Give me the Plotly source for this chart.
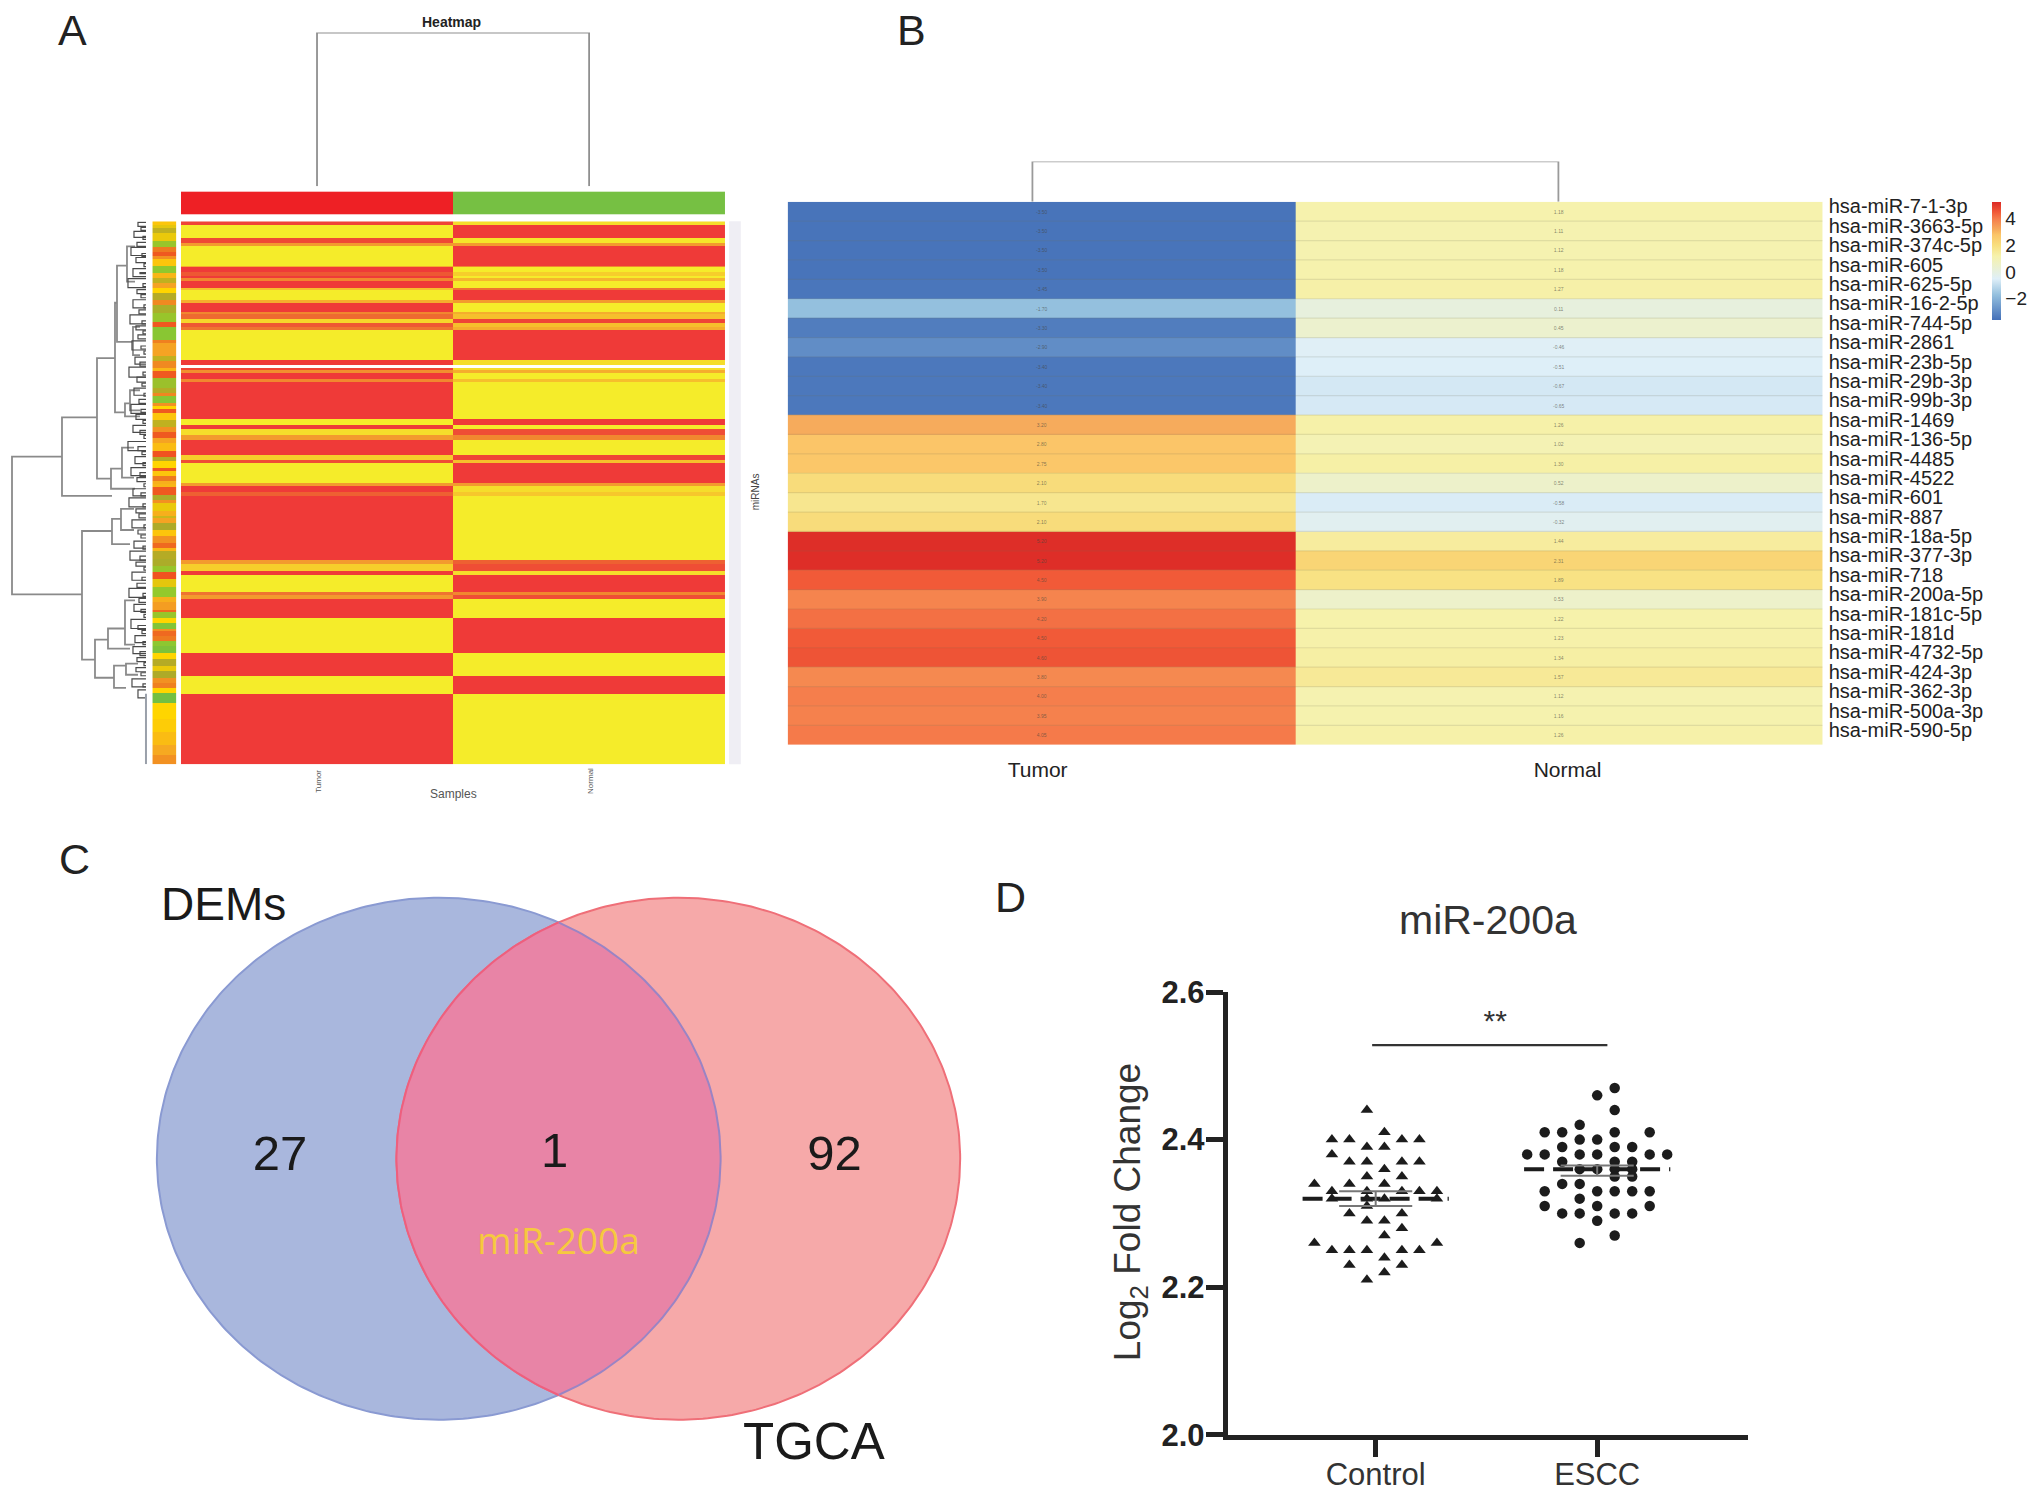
import numpy as np
import plotly.graph_objects as go

W, H = 2031, 1493
P = W / 1560.0  # working scale


def dx(a, b):
    return [a * P / W, b * P / W]


def dy(a, b):
    return [1 - b * P / H, 1 - a * P / H]


# ---------- Panel A data ----------
a_band_rows = [4, 13, 5, 3, 19, 1, 5, 4, 2, 3, 7, 2, 10, 3, 9, 2, 5, 4, 4, 3, 30, 5, 3, 2, 3, 6, 3, 37, 6, 4, 5, 5, 15, 5, 3, 20,
               3, 6, 4, 64, 4, 7, 4, 17, 3, 4, 18, 35, 23, 18, 70]
a_tumor_band = [.95, 0, .92, .5, 0, .4, 1, .85, 1, .6, 1, .3, 0, .4, 1, .6, .75, .15, .85, .7, 0, 1, None, .95, .55, 1, .6, 1, 0, 1, .1, .5, 1, .2, .9, 0,
                .5, 1, .8, 1, .5, .2, 1, 0, .7, .5, 1, 0, 1, 0, 1]
a_normal_band = [.1, 1, .05, .5, 1, .6, 0, .2, 0, .35, 0, .7, 1, .5, 0, .4, .3, .95, .3, .4, 1, .1, None, .1, .4, 0, .3, 0, 1, 0, .9, .6, 0, .95, .3, 1,
                 .5, .1, .25, 0, .8, .9, .1, 1, .6, .9, 0, 1, 0, 1, 0]
a_samples = ["Tumor", "Normal"]
a_strip_rows = [4, 3, 5, 8, 6, 5, 3, 3, 7, 7, 5, 5, 5, 5, 7, 5, 8, 9, 5, 13, 3, 13, 5, 7, 3, 7, 10, 5, 3, 7, 3, 3, 4, 7, 7, 5, 5, 5, 8, 6, 4, 7, 3, 5, 5, 3,
                3, 8, 5, 3, 8, 5, 2, 5, 7, 6, 7, 5, 3, 8, 7, 6, 7, 8, 10, 5, 8, 2, 5, 5, 6, 2, 5, 5, 5, 7, 6, 7, 5, 7, 5, 5, 5, 10, 16, 13, 13, 10, 10]
a_strip_vals = [.55, .45, .38, .46, .22, .8, .9, .72, .55, .18, .6, .38, .66, .5, .36, .75, .32, .22, .9, .14, .78, .66, .38, .75, .6, .9, .24, .36, .76, .14,
                .72, .5, .9, .55, .38, .72, .9, .66, .58, .92, .36, .5, .9, .55, .8, .62,
                .6, .9, .33, .72, .46, .62, .4, .66, .34, .55, .72, .85, .6, .36, .33, .22, .92, .45, .2, .62, .68, .85, .22, .5, .1, .72, .85, .8, .16, .08, .5, .36, .46, .34, .72, .78, .5, .02,
                .5, .53, .58, .64, .72]

dend_h = [12, 62, 97, 115, 117, 127, 133, 125, 130, 111, 122, 82, 112, 121, 95, 108, 125, 114, 126]
dend_top = [234, 195, 136, 81, 44, 25, 105, 181, 168, 246, 225, 308, 296, 286, 416, 405, 377, 442, 440]
dend_bot = [371, 273, 256, 190, 120, 60, 133, 194, 188, 266, 255, 436, 321, 307, 454, 425, 421, 464, 451]
dend_top_child = [62, 97, 115, 117, 127, 135, 140, 130, 140, 122, 134, 112, 121, 134, 108, 125, 135, 126, 138]
dend_bot_child = [82, 112, 111, 125, 133, 135, 140, 140, 140, 135, 134, 95, 130, 134, 114, 130, 135, 126, 138]
fine_h = [138, 141, 134, 143, 137, 131, 142, 136, 144, 133, 140, 128, 143, 137, 141, 133, 144, 139, 130, 142, 136, 143, 138, 132, 141, 144, 135, 140, 129, 143,
          137, 142, 134, 144, 139, 131, 141, 136, 143, 133, 140, 144, 128, 138, 142, 135, 143, 131, 140, 137, 144, 133, 141, 129, 143, 136, 139, 132, 144, 138,
          141, 134, 143, 130, 140, 136, 144, 132, 142, 137, 129, 143, 139, 134, 141, 144, 131, 138, 142, 135, 143, 133, 140, 137, 144, 136, 141, 132, 143, 138]
fine_top = [1, 6, 10, 15, 21, 26, 32, 36, 42, 47, 52, 57, 62, 68, 73, 78, 83, 88, 93, 99, 104, 109, 113, 119, 124, 129, 135, 140, 145, 150,
            155, 161, 166, 171, 177, 182, 187, 192, 198, 203, 208, 213, 219, 224, 229, 234, 240, 245, 250, 255, 261, 266, 270, 275, 281, 286, 291, 297, 302, 307,
            312, 318, 323, 328, 333, 339, 344, 349, 354, 360, 365, 370, 375, 381, 386, 391, 396, 402, 407, 412, 418, 423, 428, 434, 439, 444, 449, 455, 460, 466]
fine_bot = [5, 9, 16, 18, 25, 34, 35, 41, 45, 55, 51, 66, 65, 72, 76, 86, 86, 92, 102, 102, 108, 112, 117, 128, 127, 132, 142, 144, 155, 153,
            160, 164, 173, 174, 181, 191, 190, 197, 201, 210, 212, 216, 228, 228, 232, 241, 243, 253, 254, 259, 264, 273, 273, 284, 284, 290, 295, 305, 305, 311,
            315, 325, 326, 337, 337, 343, 347, 357, 357, 364, 374, 373, 379, 388, 389, 394, 405, 406, 410, 419, 421, 430, 432, 438, 442, 448, 452, 463, 463, 474]

# ---------- Panel B data ----------
b_mirnas = ["hsa-miR-7-1-3p", "hsa-miR-3663-5p", "hsa-miR-374c-5p", "hsa-miR-605", "hsa-miR-625-5p", "hsa-miR-16-2-5p", "hsa-miR-744-5p",
            "hsa-miR-2861", "hsa-miR-23b-5p", "hsa-miR-29b-3p", "hsa-miR-99b-3p", "hsa-miR-1469", "hsa-miR-136-5p", "hsa-miR-4485", "hsa-miR-4522",
            "hsa-miR-601", "hsa-miR-887", "hsa-miR-18a-5p", "hsa-miR-377-3p", "hsa-miR-718", "hsa-miR-200a-5p", "hsa-miR-181c-5p", "hsa-miR-181d",
            "hsa-miR-4732-5p", "hsa-miR-424-3p", "hsa-miR-362-3p", "hsa-miR-500a-3p", "hsa-miR-590-5p"]
b_tumor = [-3.5, -3.5, -3.5, -3.5, -3.45, -1.7, -3.3, -2.9, -3.4, -3.4, -3.4, 3.2, 2.8, 2.75, 2.1, 1.7, 2.1,
           5.2, 5.2, 4.5, 3.9, 4.2, 4.5, 4.6, 3.8, 4.0, 3.95, 4.05]
b_normal = [1.18, 1.11, 1.12, 1.18, 1.27, 0.11, 0.45, -0.46, -0.51, -0.67, -0.65, 1.26, 1.02, 1.3, 0.52, -0.58, -0.32,
            1.44, 2.31, 1.89, 0.53, 1.22, 1.23, 1.34, 1.57, 1.12, 1.16, 1.26]
b_samples = ["Tumor", "Normal"]
b_tick = [4, 2, 0, -2]
b_zmin, b_zmax = -3.6, 5.27
b_scale_vals = [-3.6, -1.7, -0.5, 1.2, 2.0, 2.8, 3.2, 4.0, 4.5, 5.27]
b_scale_cols = ["#4470b8", "#94c0de", "#dfeff8", "#f6f2ac", "#f8df7e", "#fbc568", "#f6ab5c", "#f57e4c", "#f15a38", "#dc2a26"]

# ---------- Panel C data ----------
venn_left_only = "27"
venn_overlap = "1"
venn_right_only = "92"
venn_left_name = "DEMs"
venn_right_name = "TGCA"
venn_gene = "miR-200a"
venn_cx = [337, 521]
venn_cy = 890
venn_rx = 216.5
venn_ry = 200.5

# ---------- Panel D data ----------
d_groups = ["Control", "ESCC"]
control_values = [2.44, 2.41, 2.40, 2.40, 2.40, 2.40, 2.39, 2.39, 2.38, 2.37, 2.37, 2.37, 2.37, 2.36, 2.35, 2.35, 2.34, 2.34, 2.34,
                  2.33, 2.33, 2.33, 2.33, 2.33, 2.32, 2.32, 2.32, 2.32, 2.31, 2.30, 2.30, 2.29, 2.29, 2.28, 2.27, 2.26, 2.26,
                  2.25, 2.25, 2.25, 2.25, 2.25, 2.24, 2.23, 2.23, 2.22, 2.21]
control_offsets = [-.5, .5, -2.5, -1.5, 1.5, 2.5, -.5, .5, -2.5, -1.5, -.5, 1.5, 2.5, .5, -.5, 1.5, -3.5, -1.5, .5,
                   -2.5, -.5, 1.5, 2.5, 3.5, -2.5, -.5, .5, 3.5, -.5, -1.5, 1.5, -.5, .5, 1.5, .5, -3.5, 3.5,
                   -2.5, -1.5, -.5, 1.5, 2.5, .5, -1.5, 1.5, .5, -.5]
escc_values = [2.47, 2.46, 2.44, 2.42, 2.41, 2.41, 2.41, 2.41, 2.40, 2.40, 2.39, 2.39, 2.39, 2.38, 2.38, 2.38, 2.38, 2.38, 2.38,
               2.37, 2.37, 2.37, 2.36, 2.36, 2.36, 2.36, 2.35, 2.35, 2.34, 2.34, 2.33, 2.33, 2.33, 2.33, 2.33, 2.32, 2.31, 2.31, 2.31,
               2.30, 2.30, 2.30, 2.30, 2.29, 2.27, 2.26]
escc_offsets = [1, 0, 1, -1, -3, -2, 1, 3, -1, 0, -2, 1, 2, -4, -3, -1, 0, 3, 4,
                -2, 1, 2, -1, 0, 1, 2, 1, 2, -2, -1, -3, 0, 1, 2, 3, -1, -3, 0, 3,
                -2, -1, 1, 2, 0, 1, -1]
swarm_step = 0.079
d_means = [2.32, 2.36]
d_err_low = [2.31, 2.351]
d_err_high = [2.33, 2.365]
d_yticks = [2.0, 2.2, 2.4, 2.6]

# ---------- expand panel A ----------
tumor_rows, normal_rows, strip_rows = [], [], []
for n, t, m in zip(a_band_rows, a_tumor_band, a_normal_band):
    tumor_rows += [t] * n
    normal_rows += [m] * n
for n, v in zip(a_strip_rows, a_strip_vals):
    strip_rows += [v] * n
n_rows = len(tumor_rows)
strip_rows = (strip_rows + [strip_rows[-1]] * n_rows)[:n_rows]
a_z = np.array([[np.nan if t is None else t, np.nan if m is None else m] for t, m in zip(tumor_rows, normal_rows)], dtype=float)

fig = go.Figure()


def hide(**kw):
    d = dict(visible=False, fixedrange=True)
    d.update(kw)
    return d


layout_axes = {}


def axes(i, xd, yd, xr, yr, **kw):
    s = "" if i == 1 else str(i)
    layout_axes[f"xaxis{s}"] = hide(domain=xd, range=xr, anchor=f"y{s}")
    layout_axes[f"yaxis{s}"] = hide(domain=yd, range=yr, anchor=f"x{s}")
    return (f"x{s}", f"y{s}")


# Panel A heatmap
ax = axes(1, dx(139, 557), dy(170, 587), [0, 2], [n_rows, 0])
heat_a_scale = [[0, "#f5ec2a"], [.3, "#f6bf2c"], [.5, "#f39a2e"], [.75, "#ee6a30"], [1, "#ef3a38"]]
fig.add_trace(go.Heatmap(z=a_z, x=[0, 1, 2], y=np.arange(n_rows + 1), zmin=0, zmax=1, colorscale=heat_a_scale,
                         showscale=False, hoverinfo="skip", xaxis=ax[0], yaxis=ax[1]))
# Panel A top colour bar
ax = axes(2, dx(139, 557), dy(147, 165), [0, 2], [0, 1])
fig.add_trace(go.Heatmap(z=[[0, 1]], x=[0, 1, 2], y=[0, 1], zmin=0, zmax=1, showscale=False,
                         colorscale=[[0, "#ee2025"], [.5, "#ee2025"], [.5, "#76c043"], [1, "#76c043"]],
                         hoverinfo="skip", xaxis=ax[0], yaxis=ax[1]))
# Panel A left strip
ax = axes(3, dx(117, 135.5), dy(170, 587), [0, 1], [n_rows, 0])
strip_scale = [[0, "#6fbe44"], [.2, "#94c92c"], [.35, "#b0a828"], [.5, "#ffd500"], [.65, "#f5a623"], [.8, "#ee7a20"], [.95, "#f04820"], [1, "#f04020"]]
fig.add_trace(go.Heatmap(z=[[v] for v in strip_rows], x=[0, 1], y=np.arange(n_rows + 1), zmin=0, zmax=1, colorscale=strip_scale,
                         showscale=False, hoverinfo="skip", xaxis=ax[0], yaxis=ax[1]))
# Panel A row dendrogram (height units = pixels from left of figure)
ax = axes(4, dx(0, 115.2), dy(170, 587), [0, 150], [n_rows, 0])
dx_line, dy_line = [], []
for h, t, b, ct, cb in zip(dend_h, dend_top, dend_bot, dend_top_child, dend_bot_child):
    dx_line += [ct, h, h, cb, None]
    dy_line += [t, t, b, b, None]
fig.add_trace(go.Scatter(x=dx_line, y=dy_line, mode="lines", line=dict(color="#8a8a8a", width=1.8), hoverinfo="skip", xaxis=ax[0], yaxis=ax[1]))
fx, fy = [], []
for h, t, b in zip(fine_h, fine_top, fine_bot):
    fx += [146, h, h, 146, None]
    fy += [t, t, b, b, None]
fig.add_trace(go.Scatter(x=fx, y=fy, mode="lines", line=dict(color="#4a4a4a", width=1.2), hoverinfo="skip", xaxis=ax[0], yaxis=ax[1]))
fig.add_trace(go.Scatter(x=[146, 146], y=[470, n_rows], mode="lines", line=dict(color="#9aa0aa", width=2), hoverinfo="skip", xaxis=ax[0], yaxis=ax[1]))
# Panel A column dendrogram
ax = axes(5, dx(139, 557), dy(25, 143), [0, 2], [0, 1])
fig.add_trace(go.Scatter(x=[.5, .5, 1.5, 1.5], y=[0, 1, 1, 0], mode="lines", line=dict(color="#8f8f8f", width=1.8), hoverinfo="skip", xaxis=ax[0], yaxis=ax[1]))

# Panel B heatmap
b_z = np.array([b_tumor, b_normal]).T
b_rows = np.arange(len(b_mirnas))
b_scale = [[(v - b_zmin) / (b_zmax - b_zmin), c] for v, c in zip(b_scale_vals, b_scale_cols)]
b_scale[0][0] = 0.0
b_scale[-1][0] = 1.0
ax = axes(6, dx(605, 1400), dy(155, 572), [0, 795], [len(b_mirnas) - .5, -.5])
fig.add_trace(go.Heatmap(z=b_z, x=[0, 390, 795], y=b_rows, zmin=b_zmin, zmax=b_zmax, colorscale=b_scale,
                         texttemplate="%{z:.2f}", textfont=dict(size=5, color="rgba(70,70,60,0.65)"),
                         hoverinfo="skip", xaxis=ax[0], yaxis=ax[1],
                         colorbar=dict(thickness=9, len=91 * P, lenmode="pixels", x=1530 * P / W, xanchor="left", xpad=0, ypad=0,
                                       y=1 - 155 * P / H, yanchor="top", outlinewidth=0, tickvals=b_tick, ticklen=0,
                                       ticktext=["4", "2", "0", "\u22122"], tickfont=dict(size=19, color="#222222", family="Liberation Sans"))))
hx, hy = [], []
for r in b_rows[:-1]:
    hx += [0, 795, None]
    hy += [r + .5, r + .5, None]
fig.add_trace(go.Scatter(x=hx, y=hy, mode="lines", line=dict(color="rgba(110,110,90,0.16)", width=1.2), hoverinfo="skip", xaxis=ax[0], yaxis=ax[1]))
layout_axes["yaxis6"] = dict(domain=dy(155, 572), range=[len(b_mirnas) - .5, -.5], anchor="x6", side="right", tickmode="array",
                             tickvals=list(b_rows), ticktext=b_mirnas, ticks="", showline=False, showgrid=False, zeroline=False,
                             tickfont=dict(size=20, family="Liberation Sans", color="#222222"), ticklabelshift=5, ticklabelstandoff=5, fixedrange=True)
layout_axes["xaxis6"] = dict(domain=dx(605, 1400), range=[0, 795], anchor="y6", tickmode="array", tickvals=[192, 599], ticktext=b_samples,
                             ticks="", showline=False, showgrid=False, zeroline=False, ticklabelstandoff=10,
                             tickfont=dict(size=21, family="Liberation Sans", color="#222222"), fixedrange=True)
# Panel B dendrogram
ax = axes(7, dx(605, 1400), dy(124, 155), [0, 795], [0, 1])
fig.add_trace(go.Scatter(x=[188, 188, 592, 592], y=[0, 1, 1, 0], mode="lines", line=dict(color="#9a9a9a", width=1.8), hoverinfo="skip", xaxis=ax[0], yaxis=ax[1]))

# Panel C Venn
ax = axes(8, dx(100, 760), dy(670, 1110), [100, 760], [1110, 670])
t = np.linspace(0, 2 * np.pi, 361)
ex = [c + venn_rx * np.cos(t) for c in venn_cx]
ey = venn_cy + venn_ry * np.sin(t)
fig.add_trace(go.Scatter(x=ex[0], y=ey, mode="lines", fill="toself", fillcolor="#a9b7dd", line=dict(color="#8a9ad2", width=2), hoverinfo="skip", xaxis=ax[0], yaxis=ax[1]))
fig.add_trace(go.Scatter(x=ex[1], y=ey, mode="lines", fill="toself", fillcolor="#f6a9a9", line=dict(color="#ef6f78", width=2), hoverinfo="skip", xaxis=ax[0], yaxis=ax[1]))
xm = (venn_cx[0] + venn_cx[1]) / 2
th0 = np.arccos((xm - venn_cx[0]) / venn_rx)
t1 = np.linspace(-th0, th0, 120)
lens_x = np.r_[venn_cx[0] + venn_rx * np.cos(t1), venn_cx[1] - venn_rx * np.cos(t1[::-1])]
lens_y = np.r_[venn_cy + venn_ry * np.sin(t1), venn_cy + venn_ry * np.sin(t1[::-1])]
fig.add_trace(go.Scatter(x=lens_x, y=lens_y, mode="none", fill="toself", fillcolor="#e884a6", hoverinfo="skip", xaxis=ax[0], yaxis=ax[1]))
fig.add_trace(go.Scatter(x=venn_cx[0] + venn_rx * np.cos(t1), y=venn_cy + venn_ry * np.sin(t1), mode="lines", line=dict(color="#9a84c4", width=2), hoverinfo="skip", xaxis=ax[0], yaxis=ax[1]))
fig.add_trace(go.Scatter(x=venn_cx[1] - venn_rx * np.cos(t1), y=venn_cy + venn_ry * np.sin(t1), mode="lines", line=dict(color="#ee5f7e", width=2), hoverinfo="skip", xaxis=ax[0], yaxis=ax[1]))
fig.add_trace(go.Scatter(x=[215, 426, 641], y=[889, 887, 889], mode="text", text=[venn_left_only, venn_overlap, venn_right_only],
                         textfont=dict(size=49, family="Liberation Sans", color="#1a1a1a"), hoverinfo="skip", xaxis=ax[0], yaxis=ax[1]))
fig.add_trace(go.Scatter(x=[429], y=[956], mode="text", text=[venn_gene], textfont=dict(size=37, family="Open Sans", color="#f6c93e"), hoverinfo="skip", xaxis=ax[0], yaxis=ax[1]))

# Panel D
layout_axes["xaxis9"] = dict(domain=dx(943, 1343), range=[0.332, 2.683], anchor="y9", tickmode="array", tickvals=[1, 2], ticktext=d_groups,
                             ticks="outside", ticklen=17, tickwidth=5, tickcolor="#222222", showline=True, linewidth=5, linecolor="#222222",
                             showgrid=False, zeroline=False, ticklabelstandoff=-9,
                             tickfont=dict(size=31, family="Liberation Sans", color="#333333"), fixedrange=True)
layout_axes["yaxis9"] = dict(domain=dy(762, 1102), range=[2.0, 2.6], anchor="x9", tickmode="array", tickvals=d_yticks,
                             ticktext=[f"{v:.1f}" for v in d_yticks], ticks="outside", ticklen=17, tickwidth=5, tickcolor="#222222",
                             showline=True, linewidth=5, linecolor="#222222", showgrid=False, zeroline=False, ticklabelstandoff=-5,
                             tickfont=dict(size=31, family="Liberation Sans", color="#222222", weight=700), fixedrange=True)
fig.add_trace(go.Scatter(x=[1 + o * swarm_step for o in control_offsets], y=control_values, mode="markers",
                         marker=dict(symbol="triangle-up", size=11, color="#1c1c1c"), hoverinfo="skip", xaxis="x9", yaxis="y9"))
fig.add_trace(go.Scatter(x=[2 + o * swarm_step for o in escc_offsets], y=escc_values, mode="markers",
                         marker=dict(symbol="circle", size=10.5, color="#1c1c1c"), hoverinfo="skip", xaxis="x9", yaxis="y9"))
for i, m in enumerate(d_means):
    g = i + 1
    fig.add_trace(go.Scatter(x=[g - .33, g + .33], y=[m, m], mode="lines", line=dict(color="#1c1c1c", width=4, dash="20px,9px"), hoverinfo="skip", xaxis="x9", yaxis="y9"))
    fig.add_trace(go.Scatter(x=[g - .165, g + .165, None, g - .165, g + .165, None, g, g],
                             y=[d_err_low[i], d_err_low[i], None, d_err_high[i], d_err_high[i], None, d_err_low[i], d_err_high[i]],
                             mode="lines", line=dict(color="#777777", width=2), hoverinfo="skip", xaxis="x9", yaxis="y9"))
fig.add_trace(go.Scatter(x=[0.984, 2.046], y=[2.528, 2.528], mode="lines", line=dict(color="#333333", width=2.2), hoverinfo="skip", xaxis="x9", yaxis="y9"))
fig.add_trace(go.Scatter(x=[1.54], y=[2.558], mode="text", text=["**"], textfont=dict(size=30, family="Liberation Sans", color="#333333"), hoverinfo="skip", xaxis="x9", yaxis="y9"))


def note(x, y, text, size, color="#222222", angle=0, family="Liberation Sans", weight=None):
    f = dict(size=size, color=color, family=family)
    if weight:
        f["weight"] = weight
    return dict(x=x * P / W, y=1 - y * P / H, xref="paper", yref="paper", text=text, showarrow=False, font=f, textangle=angle,
                xanchor="center", yanchor="middle")


annotations = [
    note(56, 23, "A", 43), note(700, 23, "B", 43), note(57, 660, "C", 43), note(776, 689, "D", 43),
    note(347, 17, "Heatmap", 14, weight=700),
    note(348, 610, "Samples", 12, color="#555555"),
    note(244, 600, "Tumor", 8, color="#555555", angle=-90),
    note(453, 600, "Normal", 8, color="#555555", angle=-90),
    note(580, 378, "miRNAs", 10, color="#444444", angle=-90),
    note(172, 694, venn_left_name, 46, color="#1a1a1a"),
    note(625, 1107, venn_right_name, 51, color="#1a1a1a"),
    note(1143, 707, "miR-200a", 41, color="#333333"),
    note(868, 931, "Log<sub>2</sub> Fold Change", 37, color="#333333", angle=-90),
]
shapes = [dict(type="rect", xref="paper", yref="paper", x0=560 * P / W, x1=569 * P / W, y0=1 - 587 * P / H, y1=1 - 170 * P / H,
               fillcolor="#efeef4", line=dict(width=0), layer="below")]

fig.update_layout(width=W, height=H, margin=dict(l=0, r=0, t=0, b=0, autoexpand=False), paper_bgcolor="white", plot_bgcolor="rgba(0,0,0,0)",
                  showlegend=False, annotations=annotations, shapes=shapes, font=dict(family="Liberation Sans"), **layout_axes)
fig.write_html("out.html", config={"displayModeBar": False}, post_script="document.body.style.margin='0';document.body.style.overflow='hidden';")
